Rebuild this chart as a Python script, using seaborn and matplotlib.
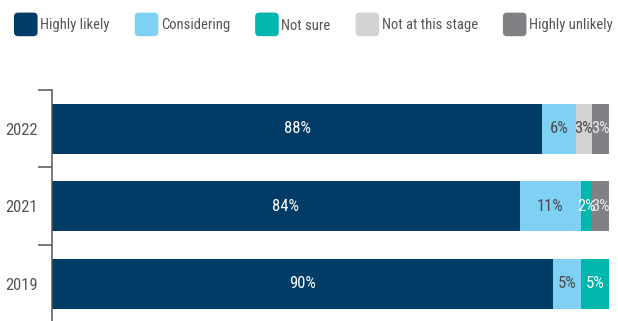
import matplotlib
matplotlib.use("Agg")
import matplotlib.pyplot as plt
from matplotlib.patches import FancyBboxPatch, Patch
from matplotlib.legend_handler import HandlerPatch
import numpy as np
import pandas as pd
import seaborn as sns

years = ["2022", "2021", "2019"]
categories = ["Highly likely", "Considering", "Not sure", "Not at this stage", "Highly unlikely"]
highly_likely = [88, 84, 90]
considering = [6, 11, 5]
not_sure = [0, 2, 5]
not_at_this_stage = [3, 0, 0]
highly_unlikely = [3, 3, 0]

colors = ["#003c66", "#80d0f3", "#00b6ad", "#d1d3d4", "#808185"]
label_colors = ["white", "#4a4a4a", "white", "#4a4a4a", "#e8e8e8"]

sns.set_style("white")
plt.rcParams["font.family"] = ["Roboto Condensed", "DejaVu Sans"]
text_gray = "#555555"
fs = 12
legend_fs = 10.5

df = pd.DataFrame(
    {
        "year": years,
        categories[0]: highly_likely,
        categories[1]: considering,
        categories[2]: not_sure,
        categories[3]: not_at_this_stage,
        categories[4]: highly_unlikely,
    }
)

fig = plt.figure(figsize=(6.18, 3.21), dpi=100)
ax = fig.add_axes([52 / 618, -0.004, 557 / 618, 0.7236])

ypos = np.arange(len(years))
left = np.zeros(len(years))
bar_h = 0.645
for cat, col, lcol in zip(categories, colors, label_colors):
    vals = df[cat].to_numpy(dtype=float)
    ax.barh(ypos, vals, left=left, height=bar_h, color=col, edgecolor="none")
    for y, v, l in zip(ypos, vals, left):
        if v > 0:
            ax.text(l + v / 2, y, f"{int(v)}%", ha="center", va="center",
                    color=lcol, fontsize=fs)
    left += vals

ax.set_xlim(0, 100)
ax.set_ylim(len(years) - 0.5, -0.5)
ax.set_yticks(ypos)
ax.set_yticklabels(years, fontsize=fs, color=text_gray)
ax.set_yticks([-0.5, 0.5, 1.5], minor=True)
ax.tick_params(axis="y", which="major", length=0, pad=10)
ax.tick_params(axis="y", which="minor", length=10, width=1.1, color=text_gray, left=True)
ax.set_xticks([])
for s in ["top", "right", "bottom"]:
    ax.spines[s].set_visible(False)
ax.spines["left"].set_color(text_gray)
ax.spines["left"].set_linewidth(1.1)


class RoundedHandler(HandlerPatch):
    def create_artists(self, legend, orig_handle, xdescent, ydescent, width, height, fontsize, trans):
        size = 17
        x0 = -xdescent
        y0 = -ydescent + (height - size) / 2
        p = FancyBboxPatch((x0 + 2, y0 + 2), size - 4, size - 4,
                           boxstyle="round,pad=2,rounding_size=3",
                           facecolor=orig_handle.get_facecolor(), edgecolor="none",
                           transform=trans)
        return [p]


handles = [Patch(facecolor=c) for c in colors]
leg = fig.legend(handles, categories, loc="center left",
                 bbox_to_anchor=(14 / 618, 1 - 25.5 / 321), borderaxespad=0,
                 borderpad=0, ncol=5, frameon=False, fontsize=legend_fs,
                 handlelength=1.17, handletextpad=0.62, columnspacing=1.72,
                 handler_map={Patch: RoundedHandler()})
for t in leg.get_texts():
    t.set_color(text_gray)

fig.savefig("out.png", dpi=100)
